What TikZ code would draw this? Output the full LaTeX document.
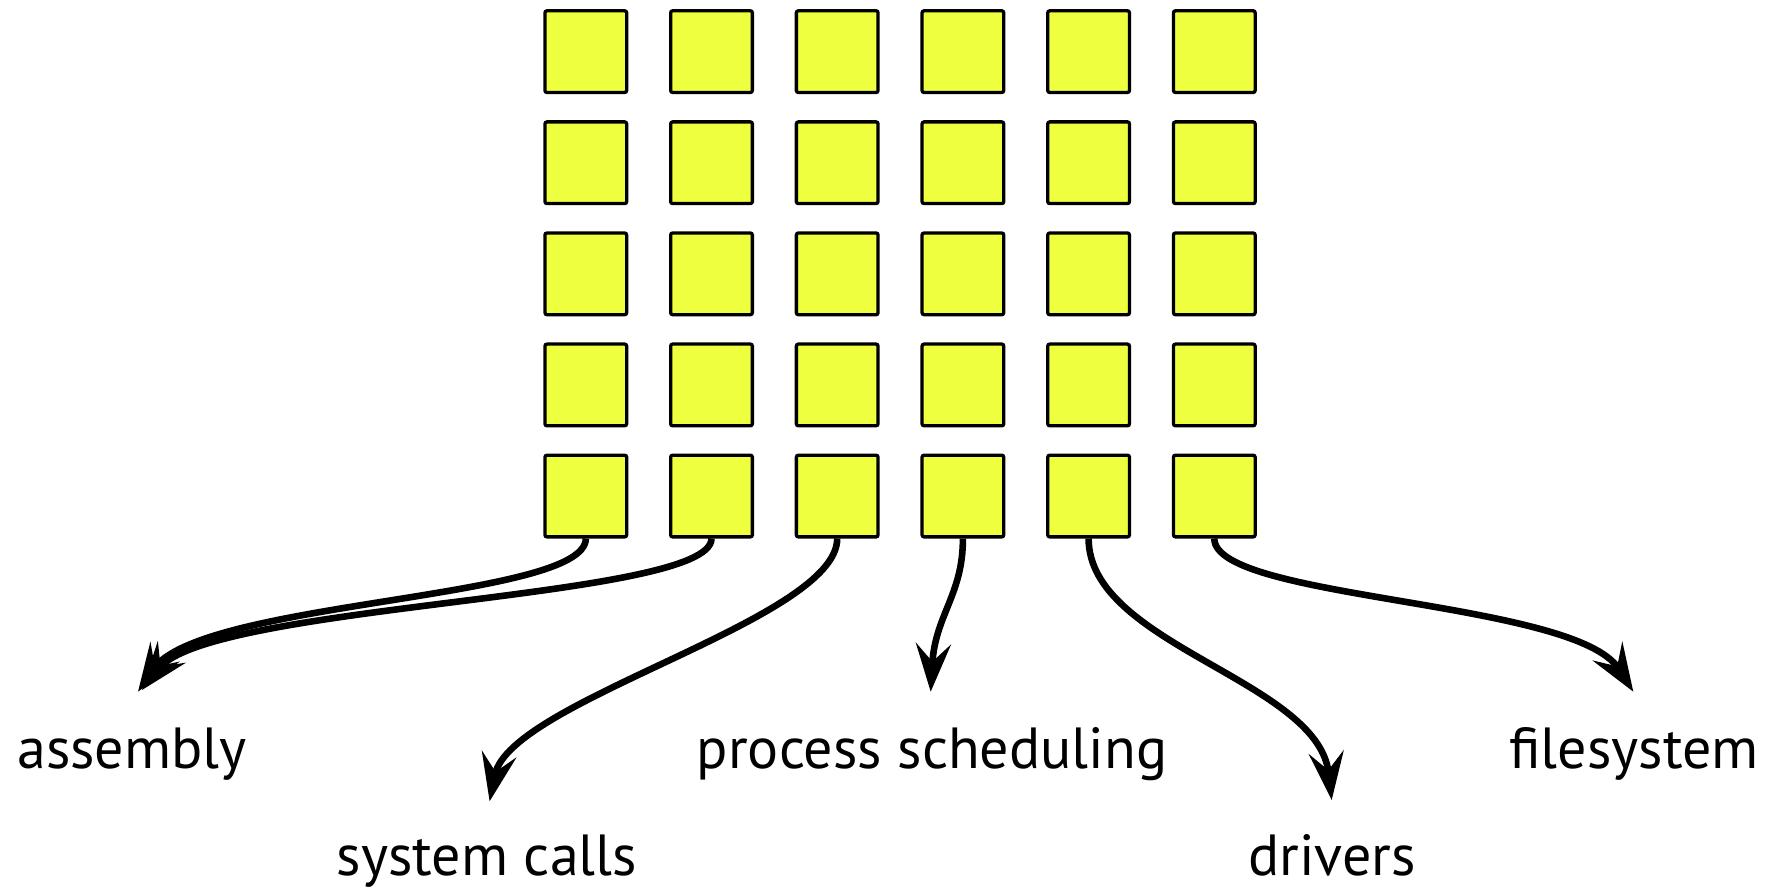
\documentclass[tikz,border=0pt]{standalone}
\usepackage{fontspec}
\setmainfont{PT Sans}
\usetikzlibrary{arrows.meta}
\definecolor{cellyellow}{RGB}{238,255,64}
\tikzset{
  cell/.style={draw=black, fill=cellyellow, line width=1.65pt, rounded corners=1pt,
    minimum size=40.85pt, inner sep=0pt},
  flow/.style={line width=3.3pt, -{Stealth[length=24pt, width=17.5pt, inset=9pt]}},
  lbl/.style={anchor=base, inner sep=0pt, font=\fontsize{29}{34}\selectfont}
}
\begin{document}
\begin{tikzpicture}[x=0.5pt, y=-0.5pt]
\useasboundingbox (0,0) rectangle (1777,892);
% grid of cells: 6 columns, 5 rows
\foreach \i in {0,...,5}{
  \foreach \j in {0,...,4}{
    \node[cell] (sq-\i-\j) at ({585.8+125.7*\i},{51.65+111.1*\j}) {};
  }
}
% labels
\node[lbl] (asm) at (132,768) {assembly};
\node[lbl] (sys) at (487,875) {system calls};
\node[lbl] (proc) at (932,768) {process scheduling};
\node[lbl] (drv) at (1332,875) {drivers};
\node[lbl] (fs) at (1634,768) {filesystem};
% arrow end points above the labels
\coordinate (t-asm-a) at (138,691.7);
\coordinate (t-asm-b) at (142,690);
\coordinate (t-sys) at (489.6,801.3);
\coordinate (t-proc) at (930.7,691.7);
\coordinate (t-drv) at (1331.7,800);
\coordinate (t-fs) at (1633.3,691.7);
% connectors
\draw[flow] (sq-0-4.south) .. controls (585.8,600) and (200,600) .. (t-asm-a);
\draw[flow] (sq-1-4.south) .. controls (711.5,600) and (210,603) .. (t-asm-b);
\draw[flow] (sq-2-4.south) .. controls (837.2,620) and (510,700) .. (t-sys);
\draw[flow] (sq-3-4.south) .. controls (963,595) and (935,615) .. (t-proc);
\draw[flow] (sq-4-4.south) .. controls (1088.6,645) and (1318,680) .. (t-drv);
\draw[flow] (sq-5-4.south) .. controls (1214.3,600) and (1575,600) .. (t-fs);
\end{tikzpicture}
\end{document}
